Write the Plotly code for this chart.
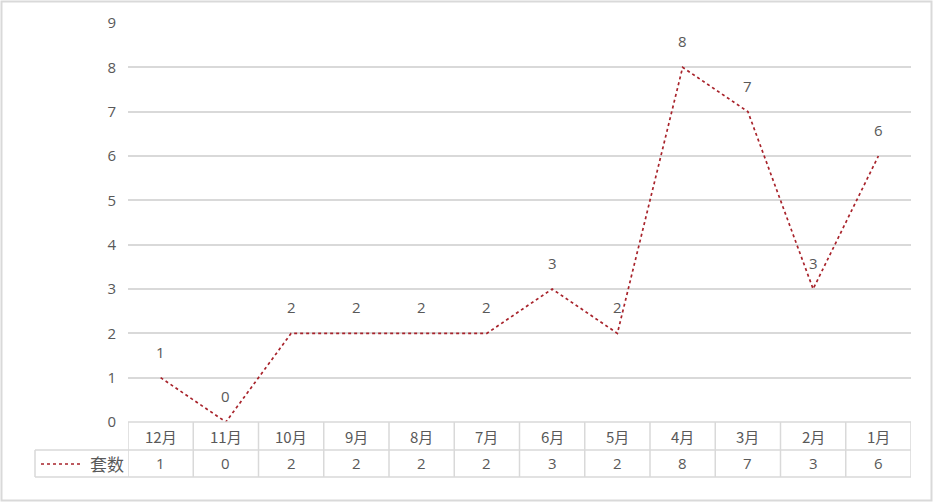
import plotly.graph_objects as go

# data
months = ['12月', '11月', '10月', '9月', '8月', '7月', '6月', '5月', '4月', '3月', '2月', '1月']
counts = [1, 0, 2, 2, 2, 2, 3, 2, 8, 7, 3, 6]
series_name = '套数'
y_ticks = list(range(0, 10))

W, H = 934, 503
L, R, T, B = 128, 23, 23, 81
plot_w, plot_h = W - L - R, H - T - B

LINE_COLOR = '#A8232B'
TEXT_COLOR = '#595959'
GRID_COLOR = '#D9D9D9'
NUM_FONT = 'Open Sans, Noto Sans CJK SC'
CJK_FONT = 'Noto Sans CJK SC'


def py(px):
    """pixel offset below plot bottom -> paper y"""
    return -px / plot_h


def px_x(px):
    """absolute pixel x -> paper x"""
    return (px - L) / plot_w


xs = list(range(len(months)))

fig = go.Figure(go.Scatter(
    x=xs, y=counts, mode='lines',
    line=dict(color=LINE_COLOR, width=1.7, dash='dot'),
    showlegend=False, hoverinfo='skip',
))

# data labels above points
for i, v in zip(xs, counts):
    fig.add_annotation(x=i, y=v, text=str(v), showarrow=False, yshift=26,
        font=dict(family=NUM_FONT, size=15, color=TEXT_COLOR))

shapes = []
row1, row2 = py(28), py(55)
# table horizontal lines
for yy, x0 in [(0, px_x(128)), (row1, px_x(35)), (row2, px_x(35))]:
    shapes.append(dict(type='line', xref='paper', yref='paper',
        x0=x0, x1=1, y0=yy, y1=yy, line=dict(color=GRID_COLOR, width=1.5)))
# table vertical lines at category boundaries
for k in range(len(months) + 1):
    shapes.append(dict(type='line', xref='x', yref='paper',
        x0=k - 0.5, x1=k - 0.5, y0=0, y1=row2,
        line=dict(color=GRID_COLOR, width=1.5)))
shapes.append(dict(type='line', xref='paper', yref='paper',
    x0=px_x(35), x1=px_x(35), y0=row1, y1=row2,
    line=dict(color=GRID_COLOR, width=1.5)))
# legend key in the table
shapes.append(dict(type='line', xref='paper', yref='paper',
    x0=px_x(41), x1=px_x(80), y0=py(42), y1=py(42),
    line=dict(color=LINE_COLOR, width=1.7, dash='dot')))
# chart outer border
shapes.append(dict(type='rect', xref='paper', yref='paper',
    x0=px_x(1.5), x1=px_x(W - 2.5), y0=1 + (T - 1.5) / plot_h, y1=py(B - 2.5),
    line=dict(color=GRID_COLOR, width=2), fillcolor='rgba(0,0,0,0)'))

for i, (m, v) in enumerate(zip(months, counts)):
    fig.add_annotation(x=i, y=(0 + row1) / 2, yref='paper', yanchor='middle',
        text=m, showarrow=False,
        font=dict(family=CJK_FONT, size=15, color=TEXT_COLOR))
    fig.add_annotation(x=i, y=(row1 + row2) / 2, yref='paper', yanchor='middle',
        text=str(v), showarrow=False,
        font=dict(family=NUM_FONT, size=15, color=TEXT_COLOR))
fig.add_annotation(x=px_x(107), xref='paper', xanchor='center',
    y=(row1 + row2) / 2, yref='paper', yanchor='middle',
    text=series_name, showarrow=False,
    font=dict(family=CJK_FONT, size=17, color=TEXT_COLOR))

fig.update_layout(
    width=W, height=H,
    margin=dict(l=L, r=R, t=T, b=B),
    paper_bgcolor='white', plot_bgcolor='white',
    shapes=shapes,
    xaxis=dict(range=[-0.5, len(months) - 0.5], showticklabels=False,
        showgrid=False, zeroline=False, fixedrange=True),
    yaxis=dict(range=[0, 9], tickvals=y_ticks, showgrid=True, gridcolor=GRID_COLOR,
        gridwidth=1.5, zeroline=False, ticks='', ticklabelstandoff=11,
        tickfont=dict(family=NUM_FONT, size=15, color=TEXT_COLOR), fixedrange=True),
)

fig.write_html('out.html', config={'displayModeBar': False},
    post_script="document.body.style.margin='0';")
